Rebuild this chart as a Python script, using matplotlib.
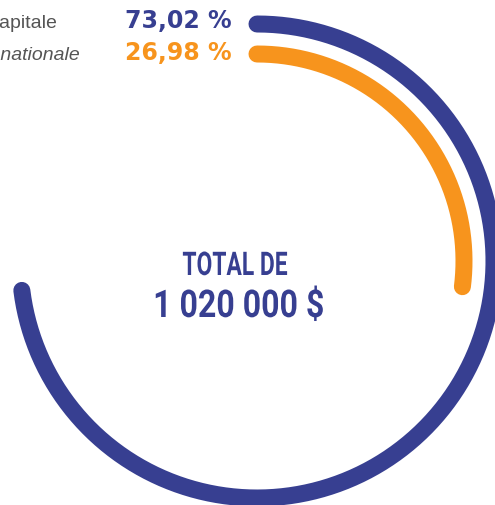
import matplotlib
matplotlib.use("Agg")
import matplotlib.pyplot as plt
import matplotlib.patheffects as pe
from matplotlib.transforms import Affine2D
import numpy as np

categories = ["Capitale", "Hors capitale nationale"]
values = [73.02, 26.98]
value_labels = ["73,02 %", "26,98 %"]
total_title = "TOTAL DE"
total_value = "1 020 000 $"

BLUE = "#373f91"
ORANGE = "#f7941d"
colors = [BLUE, ORANGE]
radii = [237, 207]

W, H = 495, 506
fig = plt.figure(figsize=(W / 100, H / 100), dpi=100)

# polar axes for the arcs, center at pixel (257, 262 from top)
cx, cy = 257, 262
R = 260
pax = fig.add_axes([(cx - R) / W, (H - cy - R) / H, 2 * R / W, 2 * R / H], projection="polar")
pax.set_theta_zero_location("N")
pax.set_theta_direction(-1)
pax.set_ylim(0, R)
pax.axis("off")
for v, r, c in zip(values, radii, colors):
    th = np.linspace(0, 2 * np.pi * v / 100.0, 400)
    pax.plot(th, np.full_like(th, r), color=c, lw=17 * 0.72,
             solid_capstyle="round", clip_on=False)

# overlay axes in pixel coordinates for text
tax = fig.add_axes([0, 0, 1, 1])
tax.set_xlim(0, W)
tax.set_ylim(H, 0)
tax.axis("off")

label_styles = ["normal", "italic"]
label_x = [57, 80]
baselines = [28, 60]
for cat, lab, c, st, lx, by in zip(categories, value_labels, colors, label_styles, label_x, baselines):
    tax.text(lx, by, cat, ha="right", va="baseline", fontsize=14, color="#555555",
             family="Liberation Sans", style=st)
    tax.text(232, by, lab, ha="right", va="baseline", fontsize=17, color=c,
             family="DejaVu Sans", weight="bold")


class CondenseX(pe.AbstractPathEffect):
    """Horizontally condense the glyphs around a display x position."""
    def __init__(self, sx, x0):
        super().__init__()
        self.sx = sx
        self.x0 = x0

    def draw_path(self, renderer, gc, tpath, affine, rgbFace=None):
        t = affine + Affine2D().translate(-self.x0, 0).scale(self.sx, 1).translate(self.x0, 0)
        renderer.draw_path(gc, tpath, t, rgbFace)


tx1, tx2 = 235, 239
tax.text(tx1, 276, total_title, ha="center", va="baseline", fontsize=23.5,
         color=BLUE, family="Roboto", weight="bold",
         path_effects=[CondenseX(0.70, tx1)])
tax.text(tx2, 318, total_value, ha="center", va="baseline", fontsize=27.5,
         color=BLUE, family="Roboto", weight="bold",
         path_effects=[CondenseX(0.84, tx2)])

fig.savefig("out.png", dpi=100)
